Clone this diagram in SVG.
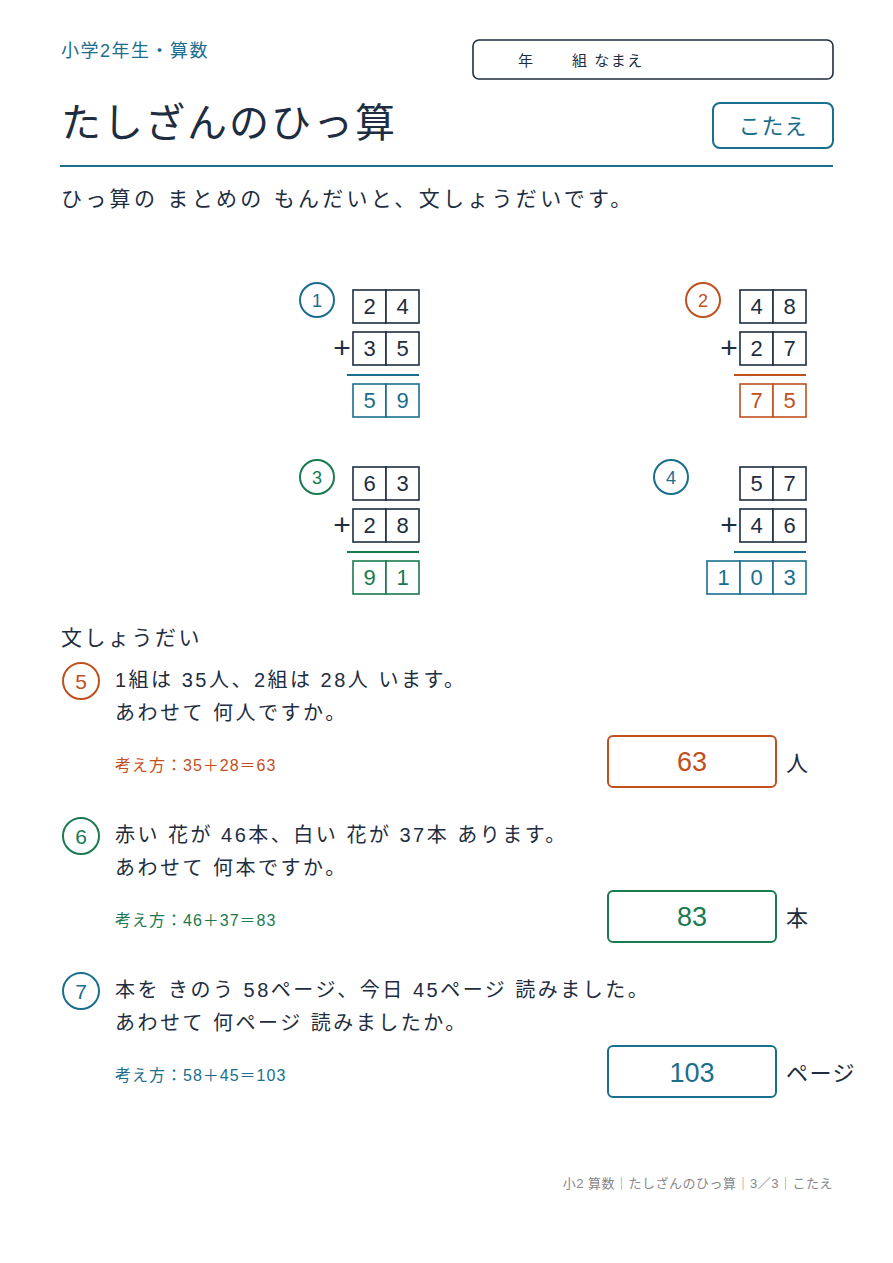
<svg xmlns="http://www.w3.org/2000/svg" width="893" height="1263" viewBox="0 0 893 1263">
<style>
text{font-family:"Liberation Sans","Noto Sans CJK JP",sans-serif}
.b{fill:#fff;stroke:#1e2d40;stroke-width:1.6}
.bt{fill:#fff;stroke:#1a6e8e;stroke-width:1.6}
.bo{fill:#fff;stroke:#c0501e;stroke-width:1.6}
.bg{fill:#fff;stroke:#1a7a50;stroke-width:1.6}
.d{font-size:22px;text-anchor:middle;fill:#1e2d40}
.dt{font-size:22px;text-anchor:middle;fill:#1a6e8e}
.do{font-size:22px;text-anchor:middle;fill:#c0501e}
.dg{font-size:22px;text-anchor:middle;fill:#1a7a50}
.p{font-size:30px;fill:#1e2d40;text-anchor:middle}
.q{font-size:20px;fill:#1e2d40;letter-spacing:2.5px}
</style>
<rect width="893" height="1263" fill="#fff"/>
<g id="header">
<text x="61" y="57" font-size="18" fill="#1a6e8e" letter-spacing="1.5">小学2年生・算数</text>
<rect x="473" y="40" width="360" height="39" rx="6" fill="#fff" stroke="#1e2d40" stroke-width="1.6"/>
<text x="518" y="66" font-size="15" fill="#1e2d40">年</text>
<text x="572" y="66" font-size="15" fill="#1e2d40" letter-spacing="1.5">組 なまえ</text>
<text x="61" y="137" font-size="40" fill="#1e2d40" letter-spacing="2">たしざんのひっ算</text>
<rect x="713" y="103" width="120" height="45" rx="7" fill="#fff" stroke="#1a6e8e" stroke-width="2"/>
<text x="773" y="134" font-size="22" fill="#1a6e8e" text-anchor="middle" letter-spacing="1">こたえ</text>
<line x1="60" y1="166" x2="833" y2="166" stroke="#1a6e8e" stroke-width="2"/>
<text x="61" y="206" font-size="21" fill="#1e2d40" letter-spacing="3.3">ひっ算の まとめの もんだいと、文しょうだいです。</text>
</g>
<g id="p1">
<circle cx="317" cy="300" r="17" fill="none" stroke="#1a6e8e" stroke-width="2"/>
<text x="317" y="307" font-size="18" fill="#1a6e8e" text-anchor="middle">1</text>
<rect class="b" x="353" y="290" width="33" height="33"/><rect class="b" x="386" y="290" width="33" height="33"/>
<text class="d" x="369.5" y="314">2</text><text class="d" x="402.5" y="314">4</text>
<text class="p" x="342" y="358">+</text>
<rect class="b" x="353" y="332" width="33" height="33"/><rect class="b" x="386" y="332" width="33" height="33"/>
<text class="d" x="369.5" y="356">3</text><text class="d" x="402.5" y="356">5</text>
<line x1="347" y1="375" x2="419" y2="375" stroke="#1a6e8e" stroke-width="2"/>
<rect class="bt" x="353" y="384" width="33" height="33"/><rect class="bt" x="386" y="384" width="33" height="33"/>
<text class="dt" x="369.5" y="408">5</text><text class="dt" x="402.5" y="408">9</text>
</g>
<g id="p2">
<circle cx="703" cy="300" r="17" fill="none" stroke="#c0501e" stroke-width="2"/>
<text x="703" y="307" font-size="18" fill="#c0501e" text-anchor="middle">2</text>
<rect class="b" x="740" y="290" width="33" height="33"/><rect class="b" x="773" y="290" width="33" height="33"/>
<text class="d" x="756.5" y="314">4</text><text class="d" x="789.5" y="314">8</text>
<text class="p" x="729" y="358">+</text>
<rect class="b" x="740" y="332" width="33" height="33"/><rect class="b" x="773" y="332" width="33" height="33"/>
<text class="d" x="756.5" y="356">2</text><text class="d" x="789.5" y="356">7</text>
<line x1="734" y1="375" x2="806" y2="375" stroke="#c0501e" stroke-width="2"/>
<rect class="bo" x="740" y="384" width="33" height="33"/><rect class="bo" x="773" y="384" width="33" height="33"/>
<text class="do" x="756.5" y="408">7</text><text class="do" x="789.5" y="408">5</text>
</g>
<g id="p3">
<circle cx="317" cy="477" r="17" fill="none" stroke="#1a7a50" stroke-width="2"/>
<text x="317" y="484" font-size="18" fill="#1a7a50" text-anchor="middle">3</text>
<rect class="b" x="353" y="467" width="33" height="33"/><rect class="b" x="386" y="467" width="33" height="33"/>
<text class="d" x="369.5" y="491">6</text><text class="d" x="402.5" y="491">3</text>
<text class="p" x="342" y="535">+</text>
<rect class="b" x="353" y="509" width="33" height="33"/><rect class="b" x="386" y="509" width="33" height="33"/>
<text class="d" x="369.5" y="533">2</text><text class="d" x="402.5" y="533">8</text>
<line x1="347" y1="552" x2="419" y2="552" stroke="#1a7a50" stroke-width="2"/>
<rect class="bg" x="353" y="561" width="33" height="33"/><rect class="bg" x="386" y="561" width="33" height="33"/>
<text class="dg" x="369.5" y="585">9</text><text class="dg" x="402.5" y="585">1</text>
</g>
<g id="p4">
<circle cx="671" cy="477" r="17" fill="none" stroke="#1a6e8e" stroke-width="2"/>
<text x="671" y="484" font-size="18" fill="#1a6e8e" text-anchor="middle">4</text>
<rect class="b" x="740" y="467" width="33" height="33"/><rect class="b" x="773" y="467" width="33" height="33"/>
<text class="d" x="756.5" y="491">5</text><text class="d" x="789.5" y="491">7</text>
<text class="p" x="729" y="535">+</text>
<rect class="b" x="740" y="509" width="33" height="33"/><rect class="b" x="773" y="509" width="33" height="33"/>
<text class="d" x="756.5" y="533">4</text><text class="d" x="789.5" y="533">6</text>
<line x1="734" y1="552" x2="806" y2="552" stroke="#1a6e8e" stroke-width="2"/>
<rect class="bt" x="707" y="561" width="33" height="33"/><rect class="bt" x="740" y="561" width="33" height="33"/><rect class="bt" x="773" y="561" width="33" height="33"/>
<text class="dt" x="723.5" y="585">1</text><text class="dt" x="756.5" y="585">0</text><text class="dt" x="789.5" y="585">3</text>
</g>
<text x="61" y="645" font-size="21" fill="#1e2d40" letter-spacing="2.5">文しょうだい</text>
<g id="q5">
<circle cx="81" cy="681" r="18" fill="none" stroke="#c0501e" stroke-width="2"/>
<text x="81" y="689" font-size="21" fill="#c0501e" text-anchor="middle">5</text>
<text class="q" x="115" y="687">1組は 35人、2組は 28人 います。</text>
<text class="q" x="115" y="720">あわせて 何人ですか。</text>
<text x="115" y="771" font-size="16" fill="#c0501e" letter-spacing="1">考え方：35＋28＝63</text>
<rect x="608" y="736" width="168" height="51" rx="5" fill="#fff" stroke="#c0501e" stroke-width="2"/>
<text x="692" y="771" font-size="27" fill="#c0501e" text-anchor="middle">63</text>
<text x="786" y="771" font-size="22" fill="#1e2d40">人</text>
</g>
<g id="q6">
<circle cx="81" cy="836" r="18" fill="none" stroke="#1a7a50" stroke-width="2"/>
<text x="81" y="844" font-size="21" fill="#1a7a50" text-anchor="middle">6</text>
<text class="q" x="115" y="842">赤い 花が 46本、白い 花が 37本 あります。</text>
<text class="q" x="115" y="875">あわせて 何本ですか。</text>
<text x="115" y="926" font-size="16" fill="#1a7a50" letter-spacing="1">考え方：46＋37＝83</text>
<rect x="608" y="891" width="168" height="51" rx="5" fill="#fff" stroke="#1a7a50" stroke-width="2"/>
<text x="692" y="926" font-size="27" fill="#1a7a50" text-anchor="middle">83</text>
<text x="786" y="926" font-size="22" fill="#1e2d40">本</text>
</g>
<g id="q7">
<circle cx="81" cy="991" r="18" fill="none" stroke="#1a6e8e" stroke-width="2"/>
<text x="81" y="999" font-size="21" fill="#1a6e8e" text-anchor="middle">7</text>
<text class="q" x="115" y="997">本を きのう 58ページ、今日 45ページ 読みました。</text>
<text class="q" x="115" y="1030">あわせて 何ページ 読みましたか。</text>
<text x="115" y="1081" font-size="16" fill="#1a6e8e" letter-spacing="1">考え方：58＋45＝103</text>
<rect x="608" y="1046" width="168" height="51" rx="5" fill="#fff" stroke="#1a6e8e" stroke-width="2"/>
<text x="692" y="1082" font-size="27" fill="#1a6e8e" text-anchor="middle">103</text>
<text x="786" y="1081" font-size="22" fill="#1e2d40" letter-spacing="1.5">ページ</text>
</g>
<text x="833" y="1188" font-size="13" fill="#888" text-anchor="end" letter-spacing="0.5">小2 算数｜たしざんのひっ算｜3／3｜こたえ</text>
</svg>
